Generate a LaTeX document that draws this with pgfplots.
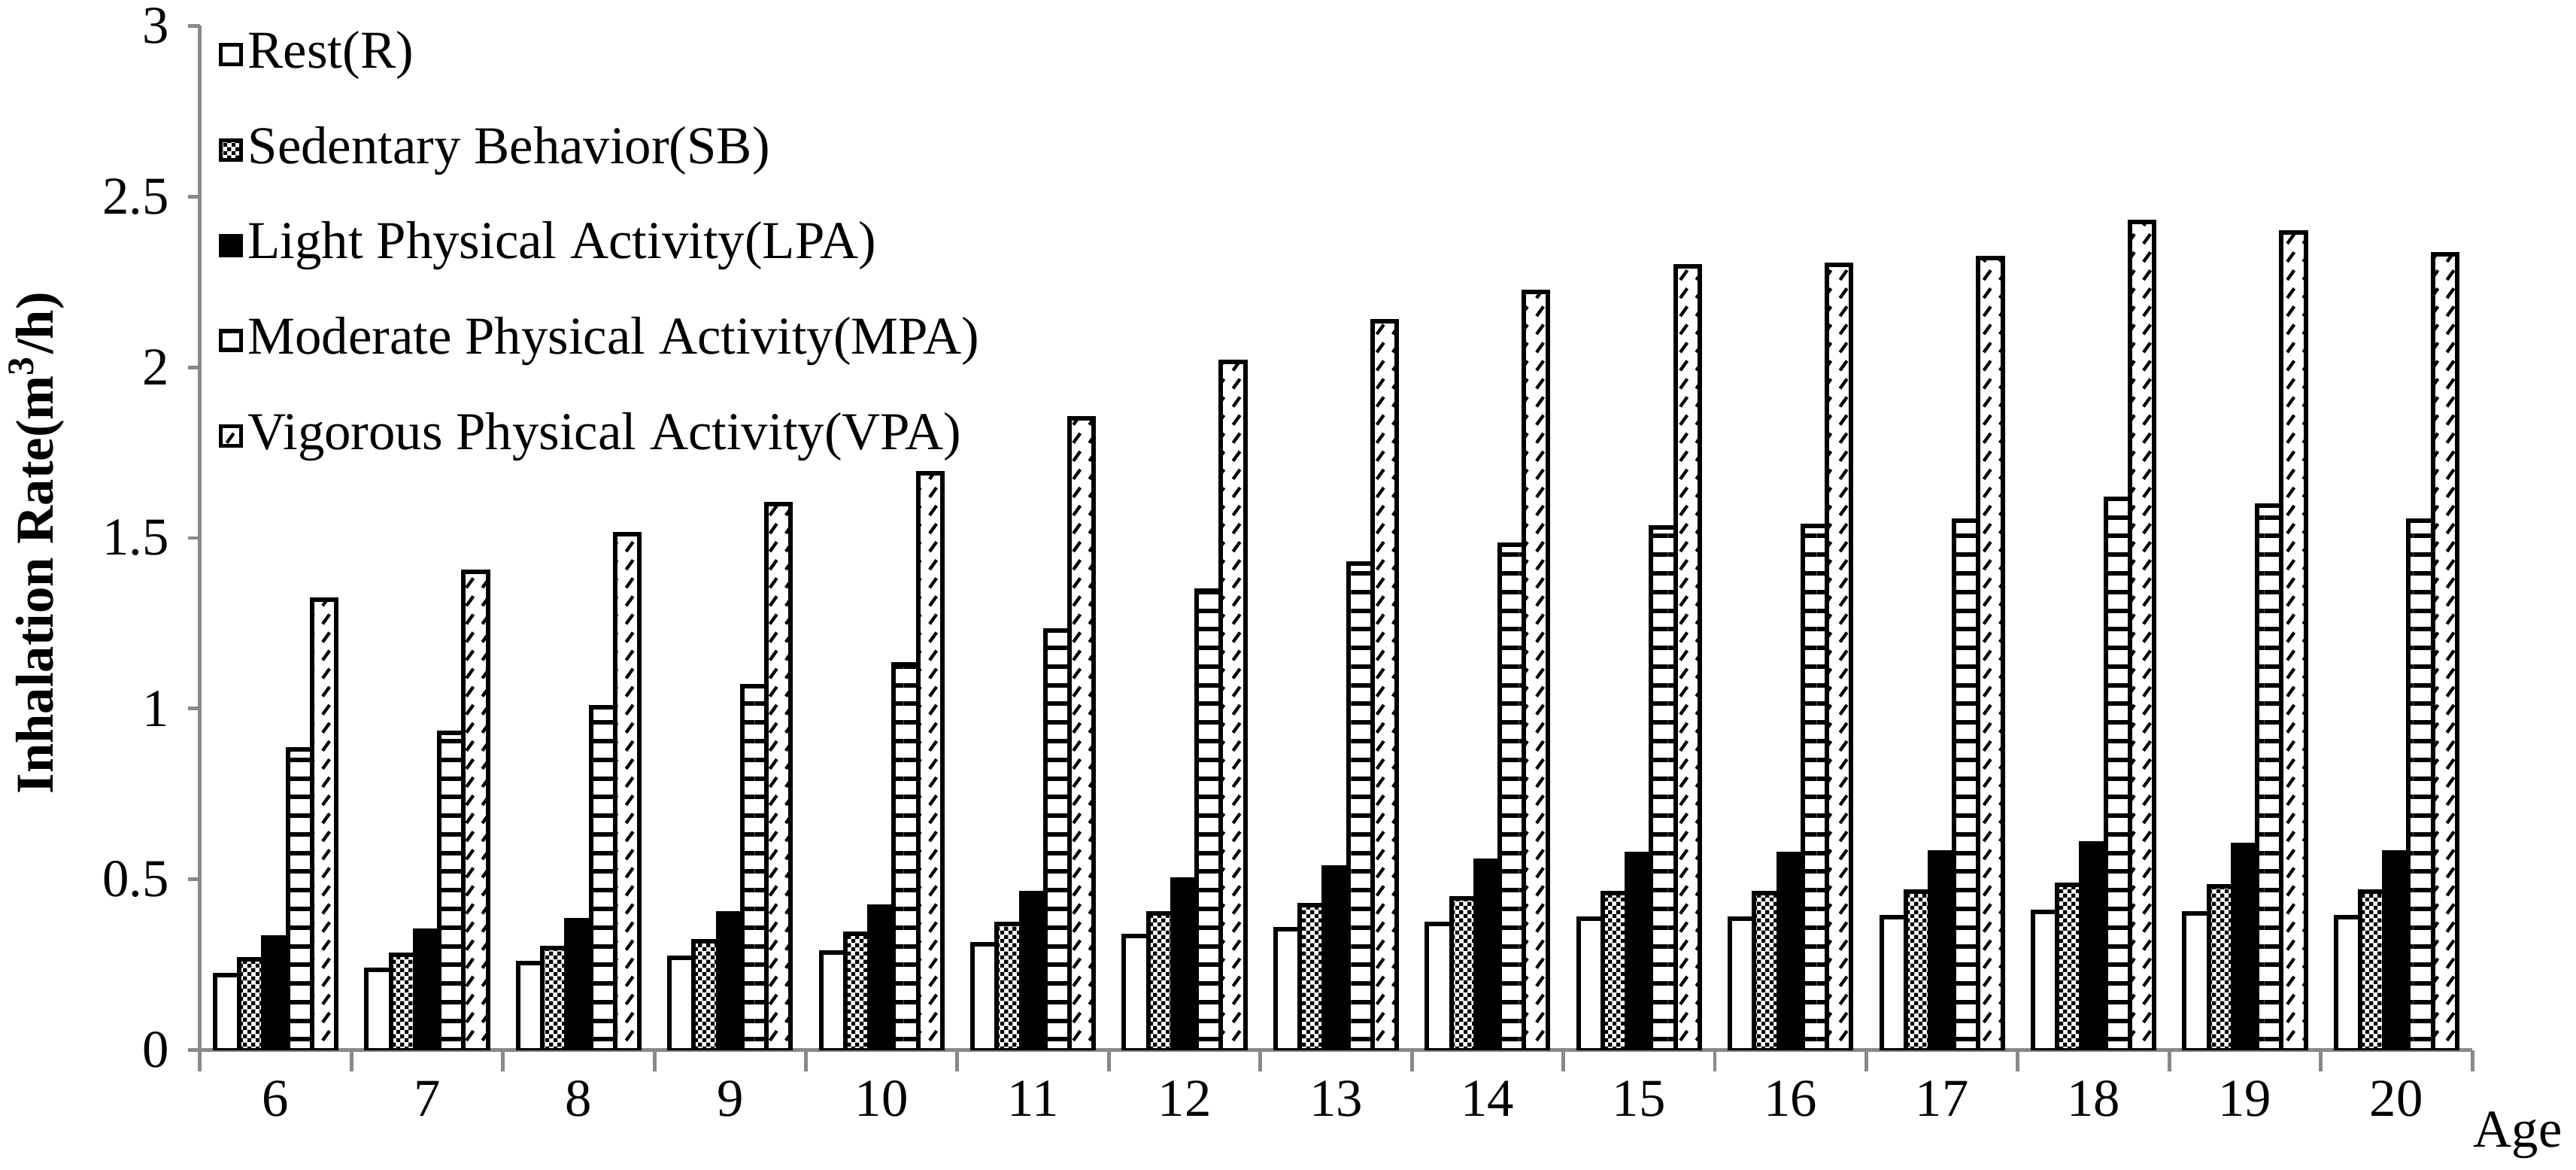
\documentclass[border=0pt]{standalone}
\usepackage{pgfplots}
\pgfplotsset{compat=1.18}
\usepackage{pgfplotstable}
\usepackage{fontspec}
\setmainfont{Liberation Serif}
\usetikzlibrary{patterns,patterns.meta}
\definecolor{axgray}{RGB}{137,137,137}

\pgfdeclarepatternformonly{fcheck}{\pgfpointorigin}{\pgfpoint{1.5pt}{1.5pt}}{\pgfpoint{1.5pt}{1.5pt}}{%
  \pgfpathrectangle{\pgfpointorigin}{\pgfpoint{0.75pt}{0.75pt}}%
  \pgfpathrectangle{\pgfpoint{0.75pt}{0.75pt}}{\pgfpoint{0.75pt}{0.75pt}}%
  \pgfusepath{fill}}

\pgfdeclarepatternformonly{fdash}{\pgfpoint{-0.5pt}{-0.5pt}}{\pgfpoint{3.5pt}{3.5pt}}{\pgfpoint{3pt}{3.4pt}}{%
  \pgfsetlinewidth{0.6pt}%
  \pgfpathmoveto{\pgfpoint{0.6pt}{0.5pt}}%
  \pgfpathlineto{\pgfpoint{1.9pt}{2.3pt}}%
  \pgfusepath{stroke}}

\pgfplotstableread{
age R SB LPA MPA VPA
6  0.220 0.265 0.330 0.880 1.320
7  0.235 0.280 0.350 0.930 1.400
8  0.255 0.300 0.380 1.005 1.510
9  0.270 0.320 0.400 1.065 1.600
10 0.285 0.340 0.420 1.130 1.690
11 0.310 0.370 0.460 1.230 1.850
12 0.335 0.400 0.500 1.345 2.015
13 0.355 0.425 0.535 1.425 2.135
14 0.370 0.445 0.555 1.480 2.220
15 0.385 0.460 0.575 1.530 2.295
16 0.385 0.460 0.575 1.535 2.300
17 0.390 0.465 0.580 1.550 2.320
18 0.405 0.485 0.605 1.615 2.425
19 0.400 0.480 0.600 1.595 2.395
20 0.390 0.465 0.580 1.550 2.330
}\data

\begin{document}
\begin{tikzpicture}
\begin{axis}[
  scale only axis, width=15cm, height=6.76cm,
  ybar=0pt, bar width=0.16,
  xmin=5.5, xmax=20.5, ymin=0, ymax=3,
  xtick={6,...,20},
  minor xtick={5.5,6.5,...,20.5},
  major x tick style={draw=none},
  ytick={0,0.5,...,3},
  axis x line*=bottom, axis y line*=left,
  axis line style={axgray, line width=0.7pt, -},
  tick style={axgray, line width=0.7pt},
  tick align=outside,
  major tick length=0.08cm,
  minor tick length=0.14cm,
  tick label style={font=\fontsize{10}{12}\selectfont},
  /pgf/number format/assume math mode=true,
  ylabel={\textbf{Inhalation Rate(m\textsuperscript{3}/h)}},
  ylabel style={at={(axis description cs:-0.072,0.495)}, anchor=center, font=\fontsize{10}{12}\selectfont},
  xlabel={Age},
  xlabel style={at={(axis description cs:1,0)}, anchor=center, xshift=0.3cm, yshift=-0.56cm, font=\fontsize{10}{12}\selectfont},
  every axis plot/.append style={draw=black, line width=0.85pt},
  legend cell align=left,
  legend image code/.code={\draw[#1, line width=0.7pt] (0cm,-0.065cm) rectangle (0.13cm,0.065cm);},
  legend style={at={(axis description cs:0.008,1.004)}, anchor=north west, draw=none, fill=none,
    inner sep=0pt, row sep=5.9pt, font=\fontsize{10}{12}\selectfont,
    nodes={inner sep=1pt, text height=7.5pt, text depth=2.5pt}},
]
\addplot[fill=white] table[x=age,y=R]{\data};
\addlegendentry{Rest(R)}
\addplot[pattern=fcheck, pattern color=black] table[x=age,y=SB]{\data};
\addlegendentry{Sedentary Behavior(SB)}
\addplot[fill=black] table[x=age,y=LPA]{\data};
\addlegendentry{Light Physical Activity(LPA)}
\addplot[pattern={Lines[angle=0,distance=3.5pt,line width=0.85pt]}, pattern color=black] table[x=age,y=MPA]{\data};
\addlegendentry{Moderate Physical Activity(MPA)}
\addplot[pattern=fdash, pattern color=black] table[x=age,y=VPA]{\data};
\addlegendentry{Vigorous Physical Activity(VPA)}
\end{axis}
\pgfresetboundingbox
\path ([xshift=-1.32cm,yshift=-0.79cm]current axis.south west) rectangle ([xshift=0.685cm,yshift=0.17cm]current axis.north east);
\end{tikzpicture}
\end{document}
